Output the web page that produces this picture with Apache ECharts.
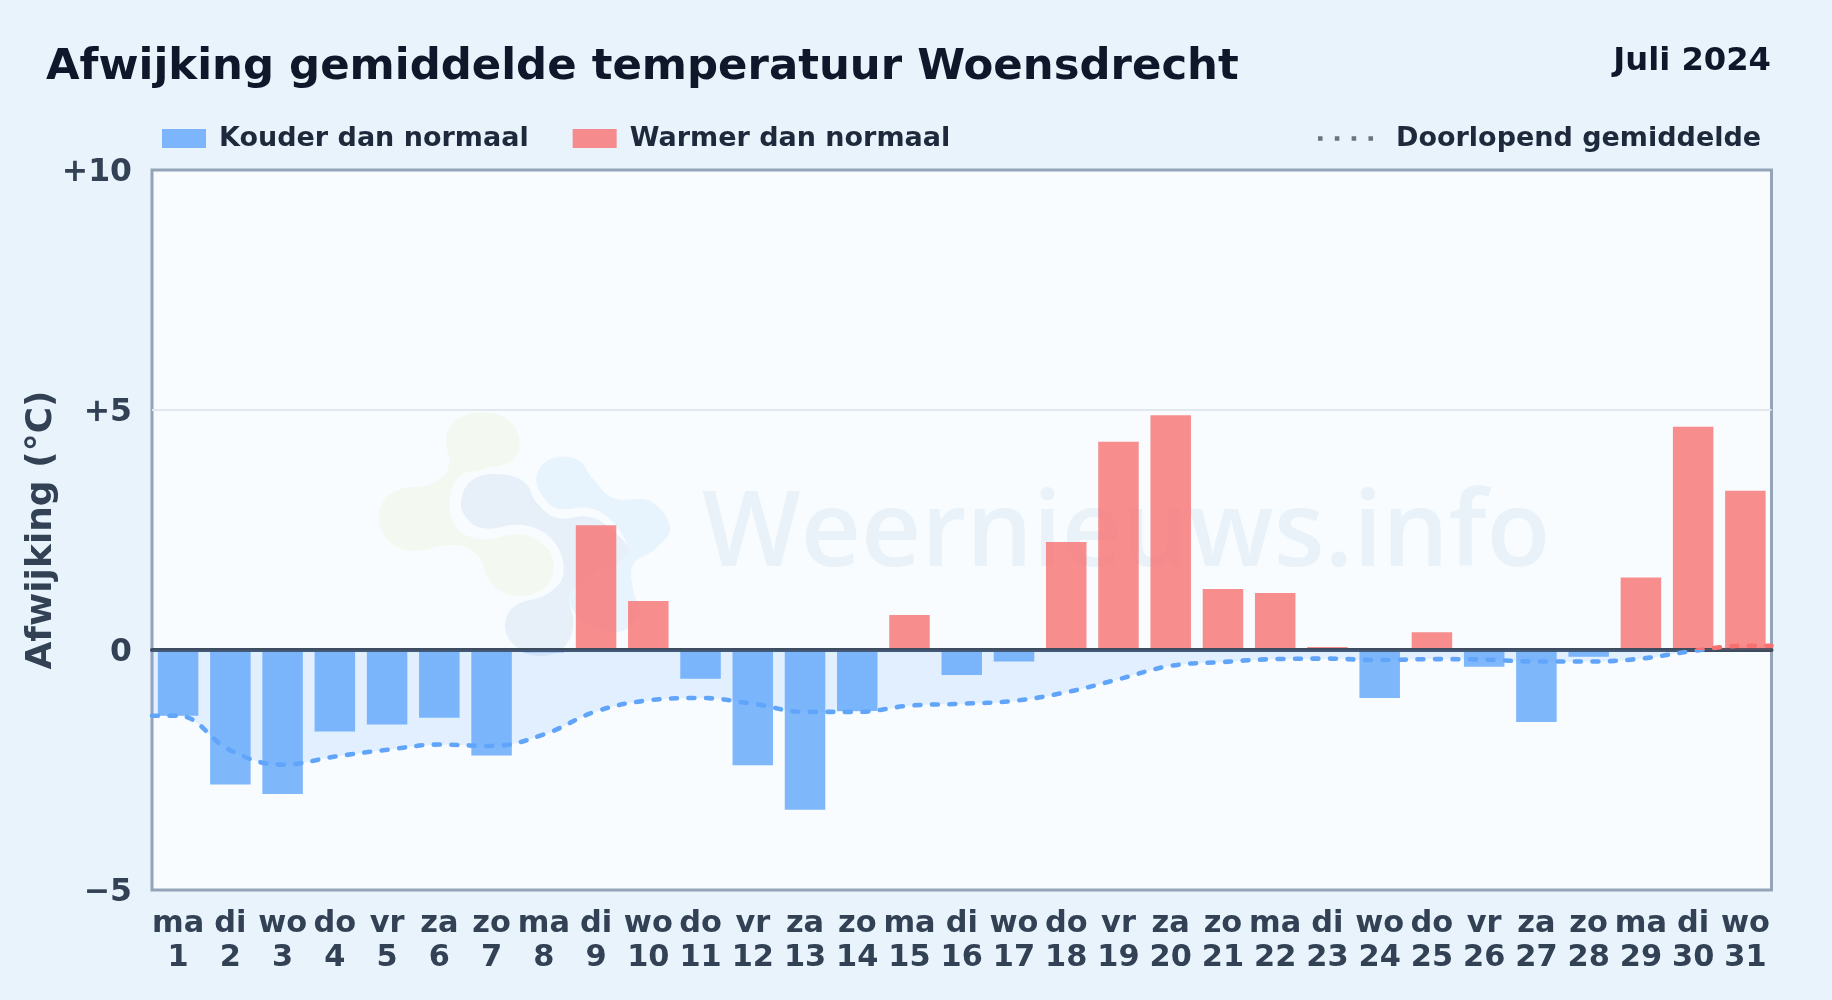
<!DOCTYPE html>
<html><head><meta charset="utf-8">
<style>html,body{margin:0;padding:0;background:#e8f3fc}#c{width:1832px;height:1000px}</style>
<script src="https://cdn.jsdelivr.net/npm/echarts@6/dist/echarts.min.js"></script>
</head><body><div id="c"></div>
<script>
const weekdays = ['ma','di','wo','do','vr','za','zo','ma','di','wo','do','vr','za','zo','ma','di','wo','do','vr','za','zo','ma','di','wo','do','vr','za','zo','ma','di','wo'];
const dayNumbers = [1,2,3,4,5,6,7,8,9,10,11,12,13,14,15,16,17,18,19,20,21,22,23,24,25,26,27,28,29,30,31];
const deviations = [-1.37,-2.8,-3.0,-1.7,-1.55,-1.41,-2.2,-0.05,2.6,1.02,-0.6,-2.4,-3.33,-1.27,0.73,-0.52,-0.24,2.25,4.34,4.89,1.27,1.19,0.06,-1.0,0.37,-0.35,-1.5,-0.14,1.51,4.65,3.32];
const runningMean = [-1.37,-2.09,-2.39,-2.22,-2.08,-1.97,-2.0,-1.76,-1.28,-1.05,-1.0,-1.12,-1.29,-1.29,-1.16,-1.12,-1.06,-0.88,-0.61,-0.33,-0.25,-0.19,-0.18,-0.21,-0.19,-0.2,-0.24,-0.24,-0.18,-0.02,0.09];
const yTicks = {min:-5,max:10,step:5};
const names = {cold:'Kouder dan normaal',warm:'Warmer dan normaal',mean:'Doorlopend gemiddelde'};

const FONT='"DejaVu Sans"';
const blue='#60a5fa', red='#f87171', ink='#334155';
const chart=echarts.init(document.getElementById('c'),null,{renderer:'canvas'});

const blob=(pts)=>pts.map(p=>[350+p[0]/3,391+p[1]/3]);
const logoGreen=[[290,130],[340,75],[440,70],[505,130],[490,205],[400,235],[330,255],[300,320],[320,410],[400,445],[510,430],[590,470],[610,540],[570,600],[480,612],[420,570],[380,490],[310,462],[170,478],[95,420],[95,340],[150,295],[240,280],[295,230]];
const logoGrey=[[335,320],[370,265],[450,250],[525,275],[560,335],[620,380],[720,378],[790,420],[835,480],[800,520],[720,560],[660,610],[670,700],[640,770],[560,795],[490,760],[465,700],[495,645],[590,610],[640,550],[610,450],[520,402],[400,412],[345,375]];
const logoSky=[[560,255],[600,205],[680,205],[730,265],[790,322],[900,330],[960,410],[920,470],[850,520],[850,600],[870,670],[810,722],[720,700],[665,650],[670,590],[760,545],[830,480],[790,395],[720,352],[620,352],[575,310]];

chart.setOption({
  animation:false,
  backgroundColor:'transparent',
  textStyle:{fontFamily:FONT},
  title:[
    {text:'Afwijking gemiddelde temperatuur Woensdrecht',left:41,top:41,textStyle:{fontFamily:FONT,fontWeight:'bold',fontSize:43.4,color:'#0f172a'}},
    {text:'Juli 2024',right:56,top:41,textStyle:{fontFamily:FONT,fontWeight:'bold',fontSize:32.2,color:'#0f172a'}}
  ],
  legend:[
    {left:157,top:120,data:[names.cold,names.warm],selectedMode:false,itemWidth:44,itemHeight:19,itemGap:44,icon:'rect',
      textStyle:{fontFamily:FONT,fontWeight:'bold',fontSize:27,color:'#1e293b',padding:[0,0,0,8]}},
    {left:1313,top:120,data:[{name:names.mean,icon:'path://M0 0h4.5v4.5h-4.5zM16.6 0h4.5v4.5h-4.5zM33.2 0h4.5v4.5h-4.5zM49.8 0h4.5v4.5h-4.5z',itemStyle:{color:'#6b7280',opacity:1}}],selectedMode:false,itemWidth:55,itemHeight:5,
      textStyle:{fontFamily:FONT,fontWeight:'bold',fontSize:27,color:'#1e293b',padding:[0,0,0,18]}}
  ],
  grid:{left:152,top:170,right:60.5,bottom:110,outerBoundsMode:'none',show:true,backgroundColor:'#f8fcff',borderColor:'#94a3b8',borderWidth:3},
  xAxis:[
    {type:'category',data:dayNumbers.map((d,i)=>weekdays[i]+'\n'+d),z:3,
      axisLine:{onZero:true,lineStyle:{color:'#3e4c60',width:4}},axisTick:{show:false},
      axisLabel:{interval:0,margin:17,fontFamily:FONT,fontWeight:'bold',fontSize:30.4,lineHeight:34,color:ink,hideOverlap:false},
      splitLine:{show:false}},
    {type:'value',min:0.5,max:31.5,show:false,splitLine:{show:false}}
  ],
  yAxis:{type:'value',min:yTicks.min,max:yTicks.max,interval:yTicks.step,
    name:'Afwijking (°C)',nameLocation:'middle',nameGap:92.5,nameRotate:90,nameMoveOverlap:false,
    nameTextStyle:{fontFamily:FONT,fontWeight:'bold',fontSize:36,color:ink},
    axisLine:{show:false},axisTick:{show:false},
    axisLabel:{margin:20,fontFamily:FONT,fontWeight:'bold',fontSize:31.5,color:ink,
      formatter:v=>'{t|'+(v>0?'+'+v:(v<0?'−'+Math.abs(v):'0'))+'}',
      rich:{t:{padding:[5,0,0,0],fontFamily:FONT,fontWeight:'bold',fontSize:31.5,color:ink}}},
    splitLine:{show:true,showMinLine:false,showMaxLine:false,lineStyle:{color:'#e2e8f0',width:2}}},
  visualMap:{show:false,seriesIndex:2,dimension:1,pieces:[{min:yTicks.min,max:0,color:blue},{min:0,max:yTicks.max,color:red}]},
  graphic:{z:1,elements:[
    {type:'polygon',z:1,silent:true,shape:{points:blob(logoGreen),smooth:0.4},style:{fill:'#f3f9f0'}},
    {type:'polygon',z:1,silent:true,shape:{points:blob(logoSky),smooth:0.4},style:{fill:'#e8f4fd'}},
    {type:'polygon',z:1,silent:true,shape:{points:blob(logoGrey),smooth:0.4},style:{fill:'#e7f0f8'}},
    {type:'text',z:1,silent:true,x:702,y:484,style:{text:'Weernieuws.info',font:'600 104.5px "Open Sans"',fill:'#e9f2f9'}}
  ]},
  series:[
    {name:names.cold,type:'bar',z:2,barWidth:40.5,barGap:'-100%',itemStyle:{color:'rgba(96,165,250,0.8)'},
      data:deviations.map(v=>v<0?v:null)},
    {name:names.warm,type:'bar',z:2,barWidth:40.5,barGap:'-100%',itemStyle:{color:'rgba(248,113,113,0.8)'},
      data:deviations.map(v=>v>=0?v:null)},
    {name:names.mean,type:'line',z:4,xAxisIndex:1,smooth:0.4,symbol:'none',
      lineStyle:{width:4.6,type:[6,11.5],cap:'round'},areaStyle:{opacity:0.15},
      data:[[0.5,runningMean[0]],...runningMean.map((v,i)=>[dayNumbers[i],v]),[31.5,runningMean[30]]]}
  ]
});
</script></body></html>
